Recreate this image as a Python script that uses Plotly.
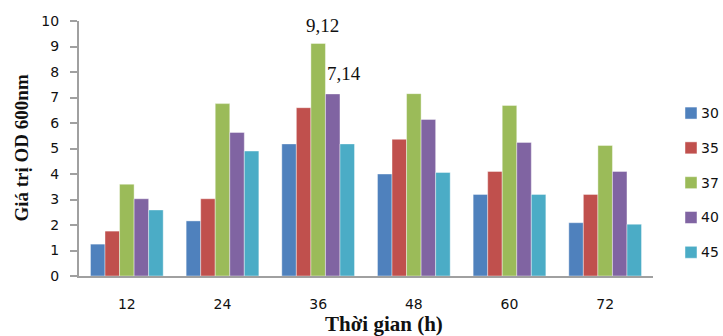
import plotly.graph_objects as go

categories = ["12", "24", "36", "48", "60", "72"]
series_names = ["30", "35", "37", "40", "45"]
s30 = [1.25, 2.16, 5.18, 4.00, 3.20, 2.09]
s35 = [1.76, 3.03, 6.60, 5.36, 4.10, 3.20]
s37 = [3.60, 6.76, 9.12, 7.15, 6.69, 5.12]
s40 = [3.03, 5.63, 7.14, 6.14, 5.24, 4.10]
s45 = [2.59, 4.90, 5.18, 4.06, 3.20, 2.03]
colors = ["#4F81BD", "#C0504D", "#9BBB59", "#8064A2", "#4BACC6"]

fig = go.Figure()
for i, (name, vals) in enumerate(zip(series_names, [s30, s35, s37, s40, s45])):
    fig.add_trace(go.Bar(
        x=categories, y=vals, name=name, showlegend=False,
        marker=dict(color=colors[i], line=dict(color="rgba(255,255,255,0.5)", width=0.8)),
    ))

# legend (squares + labels) placed at the right edge
leg_x0, leg_x1 = 1.0557, 1.0767
leg_top, leg_step, half = 0.639, 0.1365, 0.0235
for i, name in enumerate(series_names):
    yc = leg_top - i * leg_step
    fig.add_shape(type="rect", xref="paper", yref="paper", x0=leg_x0, x1=leg_x1,
                  y0=yc - half, y1=yc + half, fillcolor=colors[i],
                  line=dict(color="rgba(255,255,255,0.6)", width=0.8))
    fig.add_annotation(x=1.081, y=yc, xref="paper", yref="paper", text=name,
                       showarrow=False, xanchor="left", yanchor="middle",
                       font=dict(family="DejaVu Sans", size=14, color="#111"))

idx36 = categories.index("36")
fig.add_annotation(x=idx36, y=s37[idx36], xref="x", yref="y", text="9,12", showarrow=False,
                   yanchor="bottom", yshift=5, xshift=4,
                   font=dict(family="Liberation Serif", size=19, color="#111"))
fig.add_annotation(x=idx36, y=s40[idx36], xref="x", yref="y", text="7,14", showarrow=False,
                   yanchor="bottom", yshift=8, xshift=26,
                   font=dict(family="Liberation Serif", size=19, color="#111"))
fig.add_annotation(x=-0.101, y=0.5, xref="paper", yref="paper", text="<b>Giá trị OD 600nm</b>",
                   textangle=-90, showarrow=False, xanchor="center", yanchor="middle",
                   font=dict(family="Liberation Serif", size=19, color="#111"))
fig.add_annotation(x=0.532, y=-0.19, xref="paper", yref="paper", text="<b>Thời gian (h)</b>",
                   showarrow=False, xanchor="center", yanchor="middle",
                   font=dict(family="Liberation Serif", size=21, color="#111"))

fig.update_layout(
    width=723, height=336,
    margin=dict(l=79, r=70, t=21, b=60, autoexpand=False),
    paper_bgcolor="white", plot_bgcolor="white",
    barmode="group", bargap=0.24, bargroupgap=0,
    showlegend=False,
    xaxis=dict(type="category", showline=True, linecolor="#a0a0a0", linewidth=2,
               ticks="", showgrid=False, zeroline=False,
               tickfont=dict(family="DejaVu Sans", size=14, color="#111"),
               ticklabelstandoff=14),
    yaxis=dict(range=[0, 10], dtick=1, showline=True, linecolor="#a0a0a0", linewidth=2,
               ticks="outside", ticklen=7, tickcolor="#a0a0a0", tickwidth=2,
               showgrid=False, zeroline=False,
               tickfont=dict(family="DejaVu Sans", size=14, color="#111"),
               ticklabelstandoff=8),
)

fig.write_html("out.html", config={"displayModeBar": False},
               post_script="document.body.style.margin='0';document.body.style.overflow='hidden';")
